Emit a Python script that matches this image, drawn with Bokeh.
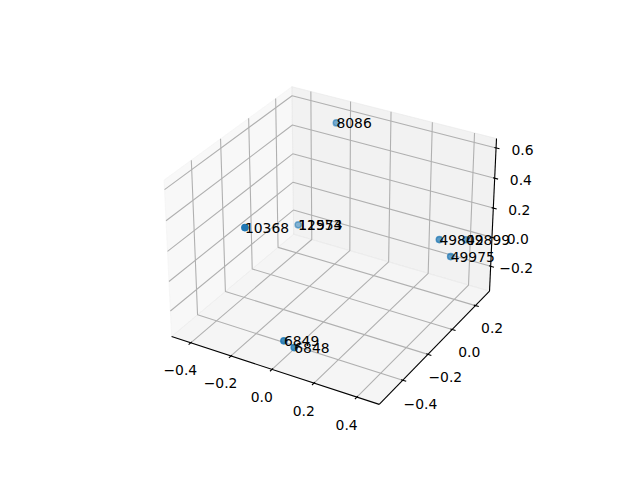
import numpy as np
from bokeh.plotting import figure
from bokeh.models import Range1d, ColumnDataSource
from bokeh.embed import file_html
from bokeh.resources import INLINE
from bokeh.core.properties import value

# ---------------- data ----------------
labels = ["8086", "10368", "11574", "12953", "49802", "49899", "49975", "6849", "6848"]
xs = [-0.198, -0.156, -0.433, -0.433, 0.390, 0.439, 0.433, 0.005, 0.033]
ys = [0.210, -0.522, 0.267, 0.267, 0.071, 0.211, 0.094, -0.500, -0.468]
zs = [0.595, 0.447, -0.239, -0.239, 0.134, 0.045, 0.019, -0.249, -0.310]

x_ticks = [-0.4, -0.2, 0.0, 0.2, 0.4]
y_ticks = [-0.4, -0.2, 0.0, 0.2]
z_ticks = [-0.2, 0.0, 0.2, 0.4, 0.6]
x_tick_text = ["\u22120.4", "\u22120.2", "0.0", "0.2", "0.4"]
y_tick_text = ["\u22120.4", "\u22120.2", "0.0", "0.2"]
z_tick_text = ["\u22120.2", "0.0", "0.2", "0.4", "0.6"]

# ---------------- 3D projection (matplotlib-like default view) ----------------
W, H = 640, 480
ELEV, AZIM, DIST = np.radians(30.0), np.radians(-60.0), 10.0


def autolim(v):
    lo, hi = min(v), max(v)
    m = 0.05 * (hi - lo)
    return (lo - m, hi + m)


lims = [autolim(xs), autolim(ys), autolim(zs)]
deltas = [(hi - lo) / 12.0 for lo, hi in lims]
bounds = [(lo - d / 4.0, hi + d / 4.0) for (lo, hi), d in zip(lims, deltas)]
centers = [(lo + hi) / 2.0 for lo, hi in lims]

aspect = np.array([4.0, 4.0, 3.0])
aspect *= 1.8294640721620434 / np.linalg.norm(aspect)
w_vec = np.array([np.cos(ELEV) * np.cos(AZIM), np.cos(ELEV) * np.sin(AZIM), np.sin(ELEV)])
u_vec = np.cross([0.0, 0.0, 1.0], w_vec)
u_vec /= np.linalg.norm(u_vec)
v_vec = np.cross(w_vec, u_vec)
side = min(0.775 * W, 0.77 * H)
ax_left = 0.125 * W + (0.775 * W - side) / 2.0
ax_bottom = 0.11 * H + (0.77 * H - side) / 2.0
V0, V1 = -0.95 / DIST, 0.90 / DIST


def project(x, y, z):
    x, y, z = np.broadcast_arrays(np.asarray(x, float), np.asarray(y, float), np.asarray(z, float))
    q = [(c - lo) / (hi - lo) * a - a / 2.0 for c, (lo, hi), a in zip((x, y, z), lims, aspect)]
    a_ = u_vec[0] * q[0] + u_vec[1] * q[1] + u_vec[2] * q[2]
    b_ = v_vec[0] * q[0] + v_vec[1] * q[1] + v_vec[2] * q[2]
    d_ = w_vec[0] * q[0] + w_vec[1] * q[1] + w_vec[2] * q[2]
    den = DIST - d_
    tx, ty, tz = a_ / den, b_ / den, -DIST / den
    px = ax_left + (tx - V0) / (V1 - V0) * side
    py = H - (ax_bottom + (ty - V0) / (V1 - V0) * side)
    return px, py, tz


p = figure(width=W - 16, height=H - 16, x_range=Range1d(0, W - 16), y_range=Range1d(H - 16, 0),
           output_backend="svg", toolbar_location=None, x_axis_location=None, y_axis_location=None,
           min_border=0, outline_line_color=None, background_fill_color="white",
           border_fill_color="white")
p.grid.visible = False

(x0, x1), (y0, y1), (z0, z1) = bounds

# panes
panes = [
    ([x0, x0, x0, x0], [y0, y1, y1, y0], [z0, z0, z1, z1], "#f2f2f2"),
    ([x0, x1, x1, x0], [y1, y1, y1, y1], [z0, z0, z1, z1], "#e6e6e6"),
    ([x0, x1, x1, x0], [y0, y0, y1, y1], [z0, z0, z0, z0], "#ececec"),
]
for px_, py_, pz_, col in panes:
    sx, sy, _ = project(px_, py_, pz_)
    p.patch(list(sx), list(sy), fill_color=col, fill_alpha=0.5, line_color=col, line_alpha=0.5, line_width=1)

# grid lines
gx, gy = [], []
for t in x_ticks:
    sx, sy, _ = project([t, t, t], [y0, y1, y1], [z0, z0, z1])
    gx.append(list(sx)); gy.append(list(sy))
for t in y_ticks:
    sx, sy, _ = project([x1, x0, x0], [t, t, t], [z0, z0, z1])
    gx.append(list(sx)); gy.append(list(sy))
for t in z_ticks:
    sx, sy, _ = project([x0, x0, x1], [y0, y1, y1], [t, t, t])
    gx.append(list(sx)); gy.append(list(sy))
p.multi_line(gx, gy, line_color="#b0b0b0", line_width=1.1)

# axis lines, ticks, tick labels
ldpp = 48.0 / (72.0 * (side / 100.0) * 2.0)
label_scale = (3.5 + 8.0) * ldpp
axes_spec = [
    (0, x_ticks, x_tick_text, [None, y0, z0], 1, -1),
    (1, y_ticks, y_tick_text, [x1, None, z0], 0, +1),
    (2, z_ticks, z_tick_text, [x1, y1, None], 0, +1),
]
lx_all, ly_all, lt_all = [], [], []
tkx, tky = [], []
for idx, ticks, texts, edge, tdir, out in axes_spec:
    a0 = list(edge); a1 = list(edge)
    a0[idx] = bounds[idx][0]; a1[idx] = bounds[idx][1]
    sx, sy, _ = project([a0[0], a1[0]], [a0[1], a1[1]], [a0[2], a1[2]])
    p.line(list(sx), list(sy), line_color="black", line_width=1.1)
    for t, txt in zip(ticks, texts):
        pin = list(edge); pout = list(edge)
        pin[idx] = t; pout[idx] = t
        pin[tdir] = edge[tdir] - out * 0.1 * deltas[tdir]
        pout[tdir] = edge[tdir] + out * 0.2 * deltas[tdir]
        sx, sy, _ = project([pin[0], pout[0]], [pin[1], pout[1]], [pin[2], pout[2]])
        tkx.append(list(sx)); tky.append(list(sy))
        lp = list(edge); lp[idx] = t
        for j in range(3):
            if j != idx:
                lp[j] = lp[j] + np.sign(lp[j] - centers[j]) * label_scale * deltas[j]
        sx, sy, _ = project(lp[0], lp[1], lp[2])
        lx_all.append(float(sx)); ly_all.append(float(sy)); lt_all.append(txt)
p.multi_line(tkx, tky, line_color="black", line_width=1.1)
p.text(lx_all, ly_all, text=lt_all, text_align="center", text_baseline="top",
       text_font=value("DejaVu Sans"), text_font_size=value("13.9px"), text_color="black")

# scatter points with depth shading
sx, sy, tz = project(xs, ys, zs)
norm = (tz - tz.min()) / (tz.max() - tz.min())
alpha = 1.0 - 0.7 * norm
order = np.argsort(-tz)
src = ColumnDataSource(dict(x=sx[order], y=sy[order], a=alpha[order]))
p.scatter("x", "y", source=src, size=6.3, fill_color="#1f77b4", fill_alpha="a",
          line_color="#1f77b4", line_alpha="a", line_width=1.4)

# point labels
p.text(list(sx), list(sy), text=labels, text_align="left", text_baseline="alphabetic",
       text_font=value("DejaVu Sans"), text_font_size=value("13.9px"), text_color="black")

open("out.html", "w").write(file_html(p, INLINE))
